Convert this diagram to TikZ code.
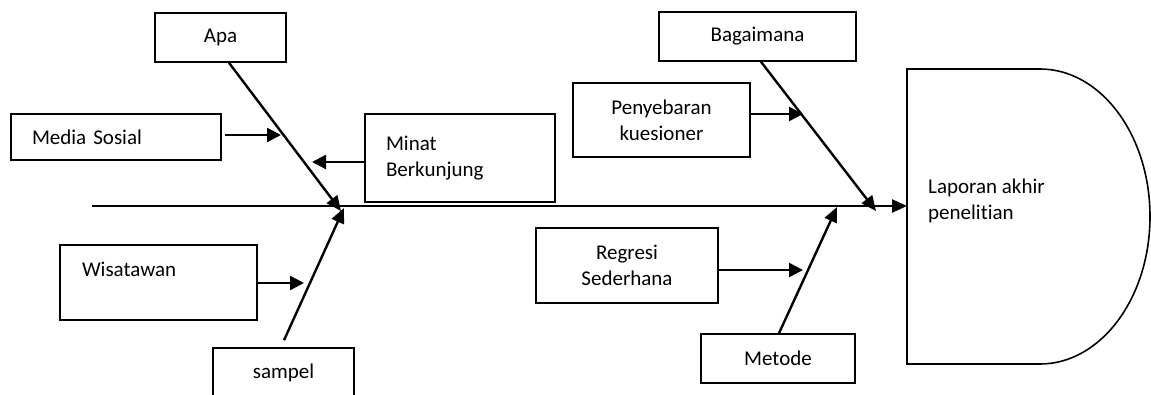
\documentclass[tikz,border=0pt]{standalone}
\usepackage{fontspec}
\setmainfont{Carlito}[Ligatures=NoCommon]
\usetikzlibrary{arrows.meta,calc}
\begin{document}
\begin{tikzpicture}[x=1pt,y=-1pt,
  lbl/.style={font=\fontsize{21}{25.6}\selectfont},
  box/.style={draw, line width=1.6pt, inner sep=0pt, lbl},
  arr/.style={line width=2.4pt, -{Triangle[length=14pt,width=14pt]}},
  bone/.style={line width=2.4pt, -{Triangle[length=15pt,width=13pt]}}]
\useasboundingbox (0,0) rectangle (1151,394);
% boxes
\node[box, minimum width=131pt, minimum height=49pt] (apa) at (220.5,37.5) {Apa};
\node[box, minimum width=210pt, minimum height=46pt, text width=168pt, align=left] (media) at (116,137) {Media Sosial};
\node[box, minimum width=190pt, minimum height=88pt, text width=148pt, align=left] (minat) at (460,158) {Minat\\Berkunjung};
\node[box, minimum width=197pt, minimum height=75pt, text width=153pt, align=left] (wis) at (158.5,282.5) {Wisatawan\\~};
\node[box, minimum width=141pt, minimum height=50pt] (samp) at (283.5,373) {sampel};
\node[box, minimum width=197pt, minimum height=49pt] (bag) at (757.5,36.5) {Bagaimana};
\node[box, minimum width=177pt, minimum height=74pt, align=center] (pen) at (661.5,120) {Penyebaran\\kuesioner};
\node[box, minimum width=182pt, minimum height=75pt, align=center] (reg) at (627,265.5) {Regresi\\Sederhana};
\node[box, minimum width=154pt, minimum height=49pt] (met) at (778,358.5) {Metode};
% effect shape
\draw[line width=1.6pt] (907,69) -- (1040,69) arc[start angle=90,end angle=-90,x radius=110pt,y radius=147.5pt] -- (907,364) -- cycle;
\node[lbl, anchor=west, inner sep=0pt, align=left] (lap) at (928,201) {Laporan akhir\\penelitian};
% coordinates
\coordinate (tail) at (92,206);
\coordinate (dl) at (907,206);
\coordinate (j1) at (341,211);
\coordinate (j2) at (344,208);
\coordinate (j3) at (876,211);
\coordinate (j4) at (837,207);
\coordinate (tMed) at (281,135);
\coordinate (tMin) at (312,162);
\coordinate (tWis) at (304,283);
\coordinate (tPen) at (803,114);
\coordinate (tReg) at (803,270);
% spine
\draw[bone] (tail) -- (dl);
% bones
\draw[bone] ($(apa.south)+(8.5,0)$) -- (j1);
\draw[bone] ($(samp.north)+(0.5,-7)$) -- (j2);
\draw[bone] ($(bag.south)+(3.5,0)$) -- (j3);
\draw[bone] ($(met.north)+(1,0)$) -- (j4);
% sub-causes
\draw[arr] ($(media.east |- tMed)+(3,0)$) -- (tMed);
\draw[arr] (minat.west |- tMin) -- (tMin);
\draw[arr] (wis.east |- tWis) -- (tWis);
\draw[arr] (pen.east |- tPen) -- (tPen);
\draw[arr] (reg.east |- tReg) -- (tReg);
\end{tikzpicture}
\end{document}
